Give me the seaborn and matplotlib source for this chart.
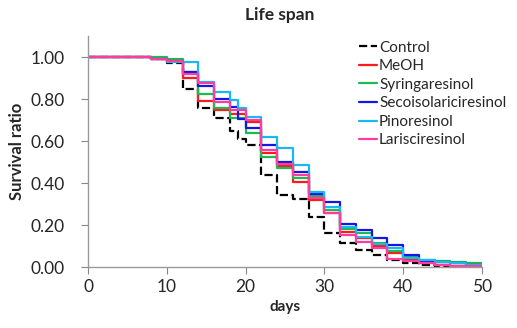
import pandas as pd
import matplotlib
matplotlib.use("Agg")
import matplotlib.pyplot as plt
import seaborn as sns

# step times (days) and survival ratios
days = [0, 8, 10, 12, 14, 16, 18, 19, 20, 22, 24, 26, 28, 30, 32, 34, 36, 38, 40, 42, 44, 46, 48, 50]

control = [1.00, 0.99, 0.97, 0.85, 0.755, 0.71, 0.65, 0.61, 0.58, 0.44, 0.345, 0.325,
           0.24, 0.163, 0.113, 0.08, 0.057, 0.033, 0.02, 0.01, 0.0, 0.0, 0.0, 0.0]
meoh = [1.00, 0.99, 0.98, 0.90, 0.79, 0.75, 0.73, 0.73, 0.69, 0.545, 0.48, 0.406,
        0.32, 0.257, 0.168, 0.138, 0.10, 0.066, 0.035, 0.02, 0.01, 0.005, 0.005, 0.005]
syringaresinol = [1.00, 1.00, 0.99, 0.93, 0.826, 0.757, 0.71, 0.71, 0.64, 0.525, 0.47, 0.424,
                  0.338, 0.27, 0.18, 0.16, 0.114, 0.075, 0.05, 0.035, 0.03, 0.025, 0.02, 0.02]
secoisolariciresinol = [1.00, 0.99, 0.98, 0.93, 0.86, 0.80, 0.763, 0.705, 0.66, 0.58, 0.50, 0.454,
                        0.35, 0.31, 0.205, 0.176, 0.14, 0.105, 0.057, 0.03, 0.025, 0.02, 0.01, 0.01]
pinoresinol = [1.00, 0.99, 0.975, 0.975, 0.88, 0.835, 0.795, 0.755, 0.715, 0.62, 0.565, 0.485,
               0.358, 0.286, 0.19, 0.145, 0.11, 0.09, 0.045, 0.033, 0.025, 0.02, 0.01, 0.01]
larisciresinol = [1.00, 0.99, 0.98, 0.92, 0.875, 0.787, 0.75, 0.75, 0.70, 0.557, 0.49, 0.44,
                  0.328, 0.257, 0.152, 0.12, 0.09, 0.04, 0.03, 0.02, 0.01, 0.005, 0.005, 0.005]

groups = ["Control", "MeOH", "Syringaresinol", "Secoisolariciresinol", "Pinoresinol", "Larisciresinol"]
series = [control, meoh, syringaresinol, secoisolariciresinol, pinoresinol, larisciresinol]
colors = ["#000000", "#FF1A1A", "#1DB954", "#1515E6", "#19B8F0", "#FF3D9E"]

df = pd.concat([pd.DataFrame({"days": days, "ratio": v, "group": g})
                for g, v in zip(groups, series)], ignore_index=True)

sns.set_style("white")
plt.rcParams["font.family"] = ["Lato", "DejaVu Sans"]

fig = plt.figure(figsize=(5.17, 3.28), dpi=100)
ax = fig.add_axes([88 / 517, 1 - 267 / 328, (482 - 88) / 517, (267 - 36) / 328])

for g, c in zip(groups, colors):
    sub = df[df["group"] == g]
    sns.lineplot(data=sub, x="days", y="ratio", ax=ax, color=c, lw=1.6,
                 drawstyle="steps-post", linestyle="--" if g == "Control" else "-",
                 label=g, estimator=None)

ax.set_xlim(0, 50)
ax.set_ylim(0, 1.1)
ax.set_xticks(range(0, 51, 10))
ax.set_yticks([0, 0.2, 0.4, 0.6, 0.8, 1.0])
ax.set_yticklabels([f"{v:.2f}" for v in [0, 0.2, 0.4, 0.6, 0.8, 1.0]])
ax.tick_params(axis="both", labelsize=12.5, length=5, color="#888888", direction="out",
               bottom=True, left=True)
ax.tick_params(axis="y", pad=12)
ax.tick_params(axis="x", pad=4)
for s in ["top", "right"]:
    ax.spines[s].set_visible(False)
for s in ["left", "bottom"]:
    ax.spines[s].set_color("#999999")
    ax.spines[s].set_linewidth(1)

ax.set_xlabel("days", fontsize=11, fontweight="bold", labelpad=3)
ax.set_ylabel("Survival ratio", fontsize=12, fontweight="bold", labelpad=4)
fig.text(280 / 517, 1 - 15 / 328, "Life span", ha="center", va="center",
         fontsize=12.5, fontweight="bold")

ax.legend(loc="upper left", bbox_to_anchor=((350 - 88) / 394, 1.02), frameon=False,
          fontsize=11, handlelength=1.2, handletextpad=0.1, labelspacing=0.3,
          borderaxespad=0.2)

fig.savefig("out.png", dpi=100)
